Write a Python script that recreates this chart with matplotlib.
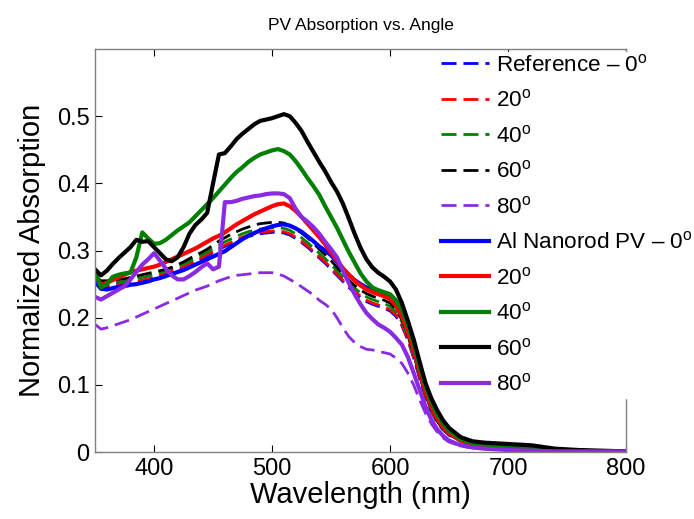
import numpy as np
import matplotlib
matplotlib.use("Agg")
import matplotlib.pyplot as plt

plt.rcParams['font.family'] = ['Liberation Sans', 'DejaVu Sans']
plt.rcParams['mathtext.fontset'] = 'custom'
plt.rcParams['mathtext.rm'] = 'Liberation Sans'

wavelength = list(range(350, 651, 5)) + [660, 670, 680, 690, 700, 720, 740, 760, 780, 800]

tail_std = [0.017, 0.011, 0.009, 0.008, 0.007, 0.005, 0.003, 0.002, 0.001, 0.001]

ref_0 = [0.250, 0.246, 0.246, 0.247, 0.248, 0.249, 0.250, 0.252, 0.254, 0.256,
         0.258, 0.261, 0.264, 0.267, 0.270, 0.274, 0.278, 0.283, 0.287, 0.292,
         0.297, 0.302, 0.306, 0.310, 0.314, 0.318, 0.321, 0.323, 0.325, 0.326,
         0.327, 0.327, 0.326, 0.323, 0.318, 0.312, 0.305, 0.297, 0.289, 0.281,
         0.272, 0.263, 0.254, 0.245, 0.237, 0.230, 0.224, 0.220, 0.217, 0.214,
         0.210, 0.202, 0.188, 0.167, 0.140, 0.110, 0.082, 0.060, 0.044, 0.033,
         0.025] + tail_std
ref_20 = [0.252, 0.248, 0.248, 0.249, 0.250, 0.251, 0.252, 0.254, 0.256, 0.258,
          0.260, 0.263, 0.266, 0.269, 0.272, 0.276, 0.280, 0.285, 0.289, 0.294,
          0.299, 0.304, 0.308, 0.312, 0.316, 0.320, 0.323, 0.325, 0.327, 0.328,
          0.329, 0.329, 0.328, 0.325, 0.320, 0.314, 0.307, 0.299, 0.291, 0.283,
          0.274, 0.265, 0.256, 0.247, 0.239, 0.232, 0.226, 0.222, 0.219, 0.216,
          0.212, 0.204, 0.190, 0.169, 0.142, 0.112, 0.084, 0.061, 0.045, 0.034,
          0.026] + tail_std
ref_40 = [0.256, 0.251, 0.251, 0.252, 0.253, 0.254, 0.256, 0.258, 0.260, 0.262,
          0.264, 0.267, 0.270, 0.273, 0.276, 0.280, 0.284, 0.289, 0.293, 0.298,
          0.303, 0.308, 0.313, 0.317, 0.321, 0.325, 0.328, 0.330, 0.332, 0.333,
          0.334, 0.334, 0.333, 0.330, 0.325, 0.319, 0.312, 0.304, 0.296, 0.288,
          0.279, 0.270, 0.261, 0.252, 0.244, 0.237, 0.231, 0.227, 0.224, 0.221,
          0.217, 0.209, 0.194, 0.173, 0.145, 0.114, 0.085, 0.062, 0.046, 0.034,
          0.026] + tail_std
ref_60 = [0.262, 0.255, 0.255, 0.256, 0.257, 0.258, 0.260, 0.262, 0.264, 0.266,
          0.268, 0.270, 0.272, 0.275, 0.279, 0.283, 0.288, 0.293, 0.297, 0.302,
          0.308, 0.314, 0.319, 0.324, 0.328, 0.332, 0.335, 0.338, 0.340, 0.341,
          0.342, 0.342, 0.341, 0.337, 0.332, 0.326, 0.319, 0.311, 0.302, 0.294,
          0.285, 0.275, 0.265, 0.256, 0.248, 0.241, 0.236, 0.232, 0.229, 0.226,
          0.222, 0.213, 0.197, 0.175, 0.147, 0.115, 0.086, 0.063, 0.046, 0.034,
          0.026] + tail_std
ref_80 = [0.190, 0.183, 0.185, 0.188, 0.191, 0.194, 0.197, 0.201, 0.205, 0.209,
          0.213, 0.217, 0.221, 0.225, 0.229, 0.233, 0.237, 0.241, 0.244, 0.247,
          0.251, 0.255, 0.258, 0.261, 0.263, 0.264, 0.265, 0.266, 0.267, 0.267,
          0.267, 0.265, 0.262, 0.257, 0.252, 0.246, 0.240, 0.234, 0.226, 0.220,
          0.213, 0.200, 0.185, 0.172, 0.163, 0.157, 0.153, 0.152, 0.150, 0.148,
          0.146, 0.140, 0.132, 0.118, 0.100, 0.078, 0.058, 0.042, 0.030, 0.021,
          0.015, 0.009, 0.006, 0.005, 0.004, 0.003, 0.002, 0.001, 0.001, 0.001, 0.001]

nr_0 = [0.254, 0.243, 0.242, 0.244, 0.246, 0.247, 0.249, 0.250, 0.252, 0.254,
        0.257, 0.259, 0.262, 0.265, 0.268, 0.271, 0.275, 0.279, 0.283, 0.287,
        0.291, 0.295, 0.299, 0.305, 0.311, 0.317, 0.322, 0.326, 0.330, 0.333,
        0.336, 0.338, 0.339, 0.337, 0.333, 0.328, 0.321, 0.314, 0.306, 0.300,
        0.293, 0.283, 0.273, 0.264, 0.256, 0.250, 0.245, 0.241, 0.238, 0.234,
        0.229, 0.219, 0.203, 0.180, 0.152, 0.120, 0.090, 0.067, 0.050, 0.037,
        0.028] + tail_std
nr_20 = [0.264, 0.249, 0.252, 0.256, 0.260, 0.264, 0.268, 0.270, 0.272, 0.274,
         0.276, 0.279, 0.283, 0.287, 0.291, 0.295, 0.299, 0.303, 0.308, 0.313,
         0.318, 0.322, 0.327, 0.333, 0.339, 0.344, 0.349, 0.354, 0.358, 0.362,
         0.366, 0.369, 0.370, 0.366, 0.359, 0.350, 0.340, 0.330, 0.320, 0.309,
         0.297, 0.285, 0.274, 0.264, 0.255, 0.248, 0.242, 0.238, 0.235, 0.232,
         0.228, 0.218, 0.202, 0.180, 0.152, 0.120, 0.090, 0.067, 0.050, 0.037,
         0.028] + tail_std
nr_40 = [0.269, 0.245, 0.250, 0.261, 0.264, 0.266, 0.267, 0.290, 0.327, 0.318,
         0.310, 0.311, 0.316, 0.323, 0.330, 0.336, 0.342, 0.351, 0.360, 0.369,
         0.378, 0.388, 0.398, 0.408, 0.417, 0.424, 0.432, 0.438, 0.443, 0.446,
         0.449, 0.451, 0.448, 0.443, 0.433, 0.421, 0.408, 0.396, 0.383, 0.366,
         0.350, 0.334, 0.316, 0.298, 0.282, 0.266, 0.254, 0.245, 0.241, 0.238,
         0.235, 0.226, 0.212, 0.190, 0.162, 0.128, 0.098, 0.074, 0.056, 0.042,
         0.032, 0.019, 0.013, 0.011, 0.010, 0.009, 0.007, 0.004, 0.002, 0.001, 0.001]
nr_60 = [0.272, 0.263, 0.270, 0.280, 0.289, 0.297, 0.305, 0.316, 0.313, 0.314,
         0.305, 0.296, 0.287, 0.284, 0.290, 0.305, 0.325, 0.338, 0.346, 0.356,
         0.400, 0.443, 0.445, 0.455, 0.466, 0.474, 0.481, 0.488, 0.493, 0.495,
         0.497, 0.500, 0.503, 0.500, 0.490, 0.478, 0.462, 0.447, 0.432, 0.418,
         0.402, 0.388, 0.370, 0.348, 0.325, 0.304, 0.287, 0.275, 0.267, 0.261,
         0.254, 0.242, 0.222, 0.196, 0.168, 0.135, 0.103, 0.080, 0.062, 0.047,
         0.036, 0.022, 0.016, 0.014, 0.013, 0.012, 0.010, 0.005, 0.003, 0.002, 0.001]
nr_80 = [0.231, 0.227, 0.232, 0.237, 0.242, 0.247, 0.257, 0.268, 0.279, 0.287,
         0.296, 0.285, 0.273, 0.263, 0.257, 0.257, 0.262, 0.268, 0.275, 0.281,
         0.272, 0.276, 0.372, 0.372, 0.374, 0.377, 0.379, 0.381, 0.382, 0.384,
         0.385, 0.385, 0.384, 0.378, 0.362, 0.350, 0.343, 0.335, 0.325, 0.313,
         0.302, 0.290, 0.270, 0.252, 0.235, 0.220, 0.207, 0.198, 0.190, 0.185,
         0.179, 0.170, 0.160, 0.142, 0.118, 0.093, 0.068, 0.048, 0.034, 0.024,
         0.017, 0.010, 0.007, 0.005, 0.004, 0.003, 0.002, 0.001, 0.001, 0.001, 0.001]

labels = ['Reference \u2013 0$^\\mathrm{o}$', '20$^\\mathrm{o}$', '40$^\\mathrm{o}$',
          '60$^\\mathrm{o}$', '80$^\\mathrm{o}$',
          'Al Nanorod PV \u2013 0$^\\mathrm{o}$', '20$^\\mathrm{o}$', '40$^\\mathrm{o}$',
          '60$^\\mathrm{o}$', '80$^\\mathrm{o}$']
colors = ['#0000ff', '#ff0000', '#008000', '#000000', '#8a2be2']

xticks = [400, 500, 600, 700, 800]
yticks = [0, 0.1, 0.2, 0.3, 0.4, 0.5]

fig = plt.figure(figsize=(6.94, 5.19), dpi=100)
ax = fig.add_axes([0.137, 0.129, 0.765, 0.7766])

ref_series = [ref_0, ref_20, ref_40, ref_60, ref_80]
nr_series = [nr_0, nr_20, nr_40, nr_60, nr_80]
handles = []
for s, c in zip(ref_series, colors):
    h, = ax.plot(wavelength, s, color=c, lw=2, dashes=(5.4, 2.5))
    handles.append(h)
for s, c in zip(nr_series, colors):
    h, = ax.plot(wavelength, s, color=c, lw=3)
    handles.append(h)

ax.set_xlim(350, 800)
ax.set_ylim(0, 0.6)
ax.set_xticks(xticks)
ax.set_yticks(yticks)
ax.set_yticklabels(['0', '0.1', '0.2', '0.3', '0.4', '0.5'])
ax.tick_params(direction='in', top=True, right=True, length=5, width=0.8,
               labelsize=17, colors='#000000', pad=4)
for sp in ax.spines.values():
    sp.set_color('#808080')
    sp.set_linewidth(1.0)

ax.set_xlabel('Wavelength (nm)', fontsize=21, labelpad=1)
ax.set_ylabel('Normalized Absorption', fontsize=21, labelpad=7.5)
ax.set_title('PV Absorption vs. Angle', fontsize=12.5, pad=14)

leg = ax.legend(handles, labels, loc='upper left', bbox_to_anchor=(0.647, 0.993),
                fontsize=16.2, handlelength=2.15, handletextpad=0.3,
                labelspacing=0.6, borderaxespad=0, borderpad=0.1,
                frameon=True, fancybox=False, framealpha=1)
leg.get_frame().set_edgecolor('white')
leg.get_frame().set_facecolor('white')
leg.set_zorder(5)

fig.savefig('out.png', dpi=100)
